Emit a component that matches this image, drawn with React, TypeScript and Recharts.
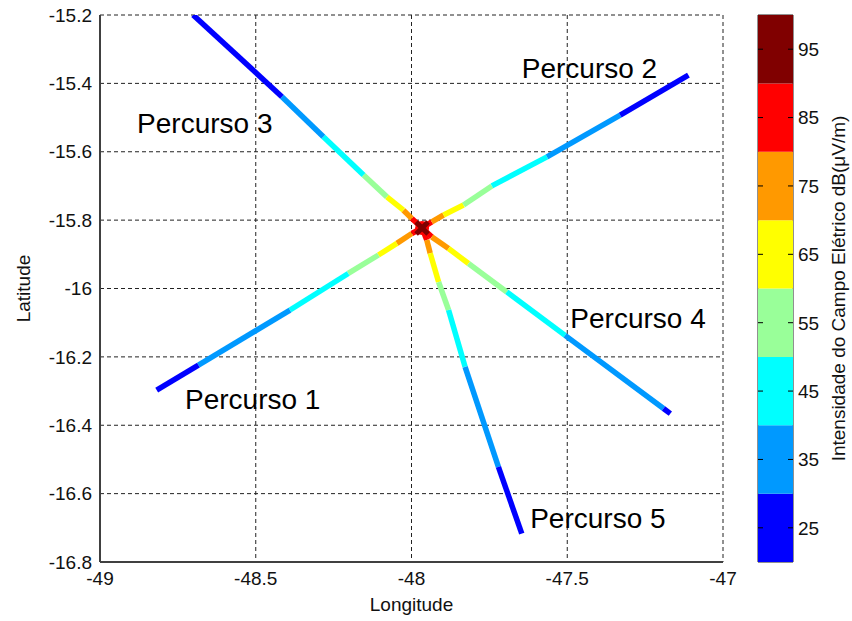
import React from 'react';
import {
  ComposedChart, BarChart, Bar, Line, Scatter, XAxis, YAxis, CartesianGrid,
  ReferenceDot, ReferenceArea,
} from 'recharts';

// faixas do mapa de cores (dB µV/m)
const bandColors = ['#0000ff', '#0099ff', '#00ffff', '#99ff99', '#ffff00', '#ff9900', '#ff0000', '#800000'];
const bandMin = 20;
const bandTicks = [25, 35, 45, 55, 65, 75, 85, 95];

const lonTicks = [-49, -48.5, -48, -47.5, -47];
const latTicks = [-15.2, -15.4, -15.6, -15.8, -16, -16.2, -16.4, -16.6, -16.8];

// transmissor
const txLon = -47.966;
const txLat = -15.823;

// percursos: pontos do transmissor para fora, valor de cada trecho
const route1Lon = [-47.966, -47.999, -48.047, -48.106, -48.203, -48.390, -48.684, -48.818];
const route1Lat = [-15.823, -15.839, -15.868, -15.902, -15.956, -16.063, -16.224, -16.297];
const route1Val = [85, 75, 65, 55, 45, 35, 25];

const route2Lon = [-47.966, -47.935, -47.897, -47.833, -47.742, -47.565, -47.330, -47.111];
const route2Lat = [-15.823, -15.805, -15.785, -15.756, -15.700, -15.615, -15.493, -15.376];
const route2Val = [85, 75, 65, 55, 45, 35, 25];

const route3Lon = [-47.966, -47.999, -48.026, -48.079, -48.154, -48.283, -48.416, -48.701];
const route3Lat = [-15.823, -15.795, -15.771, -15.732, -15.668, -15.556, -15.439, -15.200];
const route3Val = [85, 75, 65, 55, 45, 35, 25];

const route4Lon = [-47.966, -47.935, -47.881, -47.817, -47.694, -47.507, -47.191, -47.169];
const route4Lat = [-15.823, -15.849, -15.883, -15.927, -16.010, -16.137, -16.351, -16.366];
const route4Val = [85, 75, 65, 55, 45, 35, 25];

const route5Lon = [-47.966, -47.951, -47.940, -47.913, -47.881, -47.828, -47.721, -47.646];
const route5Lat = [-15.823, -15.858, -15.897, -15.981, -16.063, -16.229, -16.522, -16.717];
const route5Val = [85, 75, 65, 55, 45, 35, 25];

const routeNames = ['Percurso 1', 'Percurso 2', 'Percurso 3', 'Percurso 4', 'Percurso 5'];
const labelLon = [-48.727, -47.646, -48.881, -47.490, -47.619];
const labelLat = [-16.353, -15.385, -15.545, -16.117, -16.702];

const FONT = '"Liberation Sans", Arial, sans-serif';

const colorFor = (v: number) => bandColors[Math.max(0, Math.min(7, Math.floor((v - bandMin) / 10)))];

const routes = [
  { lon: route1Lon, lat: route1Lat, val: route1Val },
  { lon: route2Lon, lat: route2Lat, val: route2Val },
  { lon: route3Lon, lat: route3Lat, val: route3Val },
  { lon: route4Lon, lat: route4Lat, val: route4Val },
  { lon: route5Lon, lat: route5Lat, val: route5Val },
];

const segments = routes.flatMap((r, ri) =>
  r.val.map((v, i) => ({
    key: `r${ri}s${i}`,
    color: colorFor(v),
    data: [
      { lon: r.lon[i], lat: r.lat[i] },
      { lon: r.lon[i + 1], lat: r.lat[i + 1] },
    ],
  }))
);

const fmt = (v: number) => String(parseFloat(v.toFixed(1)));

// dados da barra de cores (cada faixa = 10 dB, empilhadas a partir de 20)
const colorbarRow: Record<string, number | string> = { name: 'cb' };
bandColors.forEach((_, i) => { colorbarRow[`b${i}`] = 10; });

const TxMarker = (props: any) => {
  const { cx, cy } = props;
  const s = 6;
  return (
    <g>
      <circle cx={cx} cy={cy} r={7} fill="#ff0000" />
      <line x1={cx - s} y1={cy - s} x2={cx + s} y2={cy + s} stroke="#800000" strokeWidth={5} />
      <line x1={cx - s} y1={cy + s} x2={cx + s} y2={cy - s} stroke="#800000" strokeWidth={5} />
    </g>
  );
};

// barra: x de 1 a 36 dentro do svg do colorbar
const CB_LEFT = 1;
const CB_RIGHT = 36;

const ColorbarTick = (props: any) => {
  const { y, payload } = props;
  return (
    <g>
      <line x1={CB_LEFT} x2={CB_LEFT + 5} y1={y} y2={y} stroke="#000" strokeWidth={1} />
      <line x1={CB_RIGHT - 5} x2={CB_RIGHT} y1={y} y2={y} stroke="#000" strokeWidth={1} />
      <text x={CB_RIGHT + 5} y={y} dy="0.36em" fontSize={19} fontFamily={FONT} fill="#111">
        {payload.value + bandMin}
      </text>
    </g>
  );
};

export default function App() {
  return (
    <div style={{ position: 'absolute', left: 0, top: 0, width: 852, height: 621, background: '#fff' }}>
      <div style={{ position: 'absolute', left: 0, top: 0 }}>
        <ComposedChart width={740} height={621} margin={{ top: 15, right: 17, left: 0, bottom: 19 }}>
          <CartesianGrid stroke="#222" strokeDasharray="4 3" horizontalValues={latTicks} verticalValues={lonTicks} />
          <XAxis
            type="number"
            dataKey="lon"
            domain={[-49, -47]}
            ticks={lonTicks}
            tickFormatter={fmt}
            height={40}
            tickLine={false}
            tickMargin={4}
            axisLine={{ stroke: '#404040', strokeWidth: 2 }}
            tick={{ fontSize: 19, fontFamily: FONT, fill: '#111' }}
            allowDataOverflow
            label={(p: any) => {
              const vb = p.viewBox;
              return (
                <text x={vb.x + vb.width / 2} y={611} textAnchor="middle" fontSize={19} fontFamily={FONT} fill="#111">
                  Longitude
                </text>
              );
            }}
          />
          <YAxis
            type="number"
            dataKey="lat"
            domain={[-16.8, -15.2]}
            ticks={latTicks}
            tickFormatter={fmt}
            width={100}
            tickLine={false}
            axisLine={{ stroke: '#404040', strokeWidth: 2 }}
            tick={{ fontSize: 19, fontFamily: FONT, fill: '#111' }}
            allowDataOverflow
            label={(p: any) => {
              const vb = p.viewBox;
              const cy = vb.y + vb.height / 2;
              return (
                <text x={30} y={cy} transform={`rotate(-90 30 ${cy})`} textAnchor="middle" fontSize={19} fontFamily={FONT} fill="#111">
                  Latitude
                </text>
              );
            }}
          />
          {segments.map((s) => (
            <Line
              key={s.key}
              data={s.data}
              dataKey="lat"
              stroke={s.color}
              strokeWidth={5.5}
              dot={false}
              activeDot={false}
              isAnimationActive={false}
            />
          ))}
          <Scatter data={[{ lon: txLon, lat: txLat }]} dataKey="lat" shape={TxMarker} isAnimationActive={false} />
          {routeNames.map((name, i) => (
            <ReferenceDot
              key={name}
              x={labelLon[i]}
              y={labelLat[i]}
              r={0}
              fill="none"
              stroke="none"
              ifOverflow="visible"
              label={(p: any) => (
                <text x={p.viewBox.x} y={p.viewBox.y} fontSize={28} fontFamily={FONT} fill="#000">
                  {name}
                </text>
              )}
            />
          ))}
        </ComposedChart>
      </div>
      <div style={{ position: 'absolute', left: 757, top: 0 }}>
        <BarChart
          width={95}
          height={621}
          data={[colorbarRow]}
          margin={{ top: 15, right: 0, left: 1, bottom: 59 }}
          barCategoryGap={0}
        >
          <XAxis dataKey="name" hide />
          <YAxis
            orientation="right"
            type="number"
            domain={[0, 80]}
            ticks={bandTicks.map((t) => t - bandMin)}
            width={59}
            axisLine={false}
            tickLine={false}
            tick={ColorbarTick}
            label={(p: any) => {
              const vb = p.viewBox;
              const cy = vb.y + vb.height / 2;
              return (
                <text x={88} y={cy} transform={`rotate(-90 88 ${cy})`} textAnchor="middle" fontSize={19} fontFamily={FONT} fill="#111">
                  Intensidade do Campo Elétrico dB(μV/m)
                </text>
              );
            }}
          />
          {bandColors.map((c, i) => (
            <Bar key={c} dataKey={`b${i}`} stackId="cb" fill={c} isAnimationActive={false} />
          ))}
          <ReferenceArea y1={0} y2={80} fill="none" stroke="#222" strokeWidth={1} ifOverflow="visible" />
        </BarChart>
      </div>
    </div>
  );
}
